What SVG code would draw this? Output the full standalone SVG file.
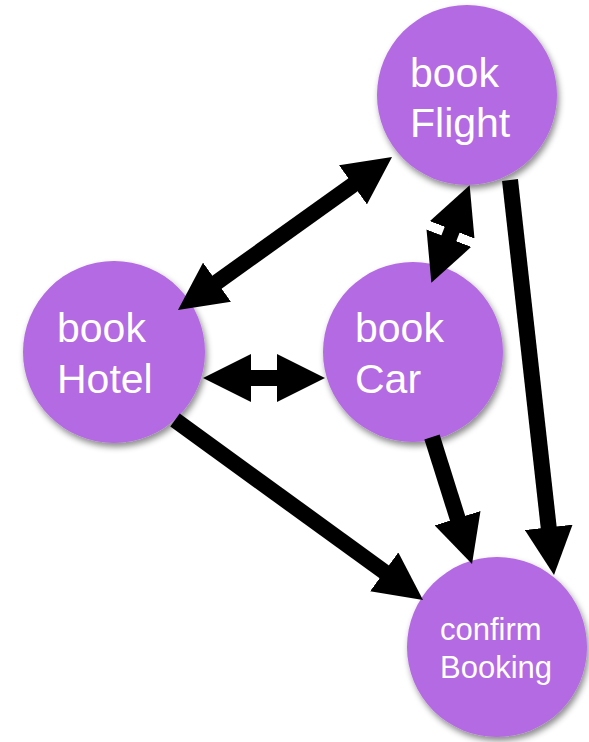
<svg xmlns="http://www.w3.org/2000/svg" width="589" height="742" viewBox="0 0 589 742">
<style>
.node{fill:#b36ae2;filter:url(#sh);}
.lbl{fill:#ffffff;font-family:"Liberation Sans",Arial,sans-serif;font-size:41px;}
.sm{font-size:31px;}
.edge{stroke:#000;stroke-width:16;fill:none;stroke-linecap:butt;}
.one{marker-end:url(#ah);}
.two{marker-start:url(#ah);marker-end:url(#ah);}
</style>
<defs>
<filter id="sh" x="-20%" y="-20%" width="140%" height="140%">
<feDropShadow dx="2" dy="4" stdDeviation="3" flood-color="#000" flood-opacity="0.45"/>
</filter>
<marker id="ah" markerUnits="userSpaceOnUse" viewBox="0 -24 48 48" markerWidth="48" markerHeight="48" refX="1" refY="0" orient="auto-start-reverse">
<path d="M0,-24 L48,0 L0,24 Z" fill="#000"/>
</marker>
</defs>
<rect width="589" height="742" fill="#fff"/>
<g id="bookFlight"><circle class="node" cx="467" cy="95" r="90"/><text class="lbl" x="410" y="87">book</text><text class="lbl" x="410" y="137">Flight</text></g>
<g id="bookHotel"><circle class="node" cx="114" cy="352" r="91"/><text class="lbl" x="57" y="342">book</text><text class="lbl" x="57" y="393">Hotel</text></g>
<g id="bookCar"><circle class="node" cx="413" cy="352" r="90"/><text class="lbl" x="355" y="342">book</text><text class="lbl" x="355" y="393">Car</text></g>
<g id="confirmBooking"><circle class="node" cx="497" cy="647" r="90"/><text class="lbl sm" x="440" y="640">confirm</text><text class="lbl sm" x="440" y="678">Booking</text></g>
<g id="connectors">
<line class="edge two" x1="353.8" y1="184.3" x2="216.2" y2="282.7"/>
<line class="edge two" x1="250" y1="378" x2="278" y2="378"/>
<line class="edge two" x1="452.5" y1="228.9" x2="448.5" y2="239.1"/>
<line class="edge one" x1="510" y1="180" x2="548.8" y2="528.3"/>
<line class="edge one" x1="432" y1="437" x2="457.9" y2="519.2"/>
<line class="edge one" x1="175" y1="420" x2="385" y2="572.4"/>
</g>
</svg>
